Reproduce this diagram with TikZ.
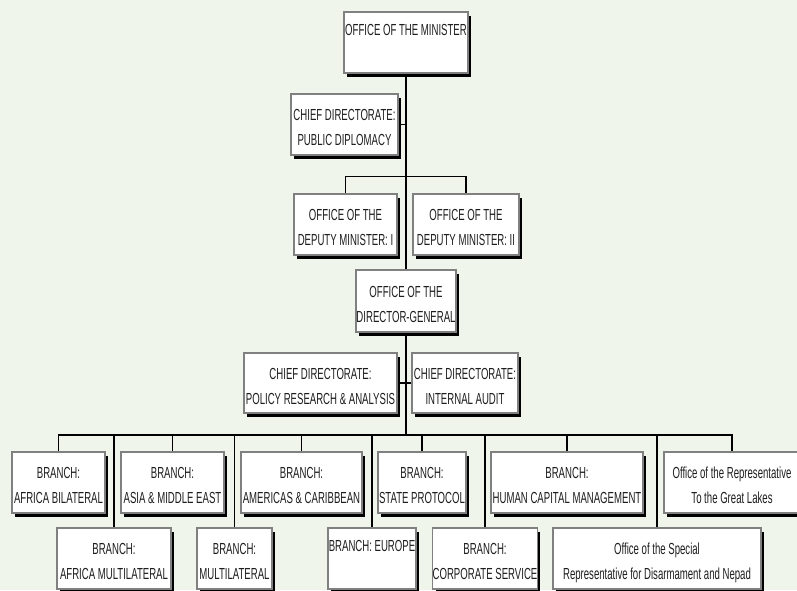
\documentclass[tikz,border=0pt]{standalone}
\usepackage{fontspec}
\setmainfont{Liberation Sans}[FakeStretch=0.6]
\usetikzlibrary{shadows}
\definecolor{bg}{RGB}{240,245,235}
\definecolor{boxline}{RGB}{128,128,128}
\definecolor{ink}{RGB}{30,30,30}
\pgfdeclarelayer{edges}
\pgfsetlayers{edges,main}
\newcommand\obox[7][]{\node[obox, minimum width={(#5-#3)*0.75pt}, minimum height={(#6-#4)*0.75pt}, #1] (#2) at ({(#3+#5)/2},{(#4+#6)/2}) {#7};}
\begin{document}
\begin{tikzpicture}[x=0.75pt,y=-0.75pt,
  obox/.style={draw=boxline, line width=1.1pt, fill=white, inner sep=0pt, align=center,
    text=ink, text height=35pt, text depth=3pt,
    font=\fontsize{12}{18.75}\selectfont,
    drop shadow={shadow xshift=2.25pt, shadow yshift=-3.2pt, fill=black, opacity=1}},
  single/.style={text height=0pt, text depth=10pt},
  link/.style={draw=black, line width=1pt}]
\useasboundingbox (0,0) rectangle (797,590);
\clip (0,0) rectangle (797,590);
\obox[single]{min}{344}{12}{468}{73}{OFFICE OF THE MINISTER}
\obox{pd}{291}{94}{398}{155}{CHIEF DIRECTORATE:\\ PUBLIC DIPLOMACY}
\obox{dep1}{294}{194}{397}{255}{OFFICE OF THE\\ DEPUTY MINISTER: I}
\obox{dep2}{413}{194}{519}{255}{OFFICE OF THE\\ DEPUTY MINISTER: II}
\obox{dg}{356}{270}{456}{332}{OFFICE OF THE\\ DIRECTOR-GENERAL}
\obox{pol}{244}{353}{397}{413}{CHIEF DIRECTORATE:\\ POLICY RESEARCH \& ANALYSIS}
\obox{ia}{412}{353}{518}{413}{CHIEF DIRECTORATE:\\ INTERNAL AUDIT}
\obox{b1}{12}{452}{105}{513}{BRANCH:\\ AFRICA BILATERAL}
\obox{b2}{121}{452}{224}{513}{BRANCH:\\ ASIA \& MIDDLE EAST}
\obox{b3}{241}{452}{362}{513}{BRANCH:\\ AMERICAS \& CARIBBEAN}
\obox{b4}{378}{452}{466}{513}{BRANCH:\\ STATE PROTOCOL}
\obox{b5}{491}{452}{643}{513}{BRANCH:\\ HUMAN CAPITAL MANAGEMENT}
\obox{b6}{664}{452}{800}{513}{Office of the Representative\\ To the Great Lakes}
\obox{c1}{57}{528}{171}{589}{BRANCH:\\ AFRICA MULTILATERAL}
\obox{c2}{197}{528}{272}{589}{BRANCH:\\ MULTILATERAL}
\obox[single]{c3}{328}{528}{416}{589}{BRANCH: EUROPE}
\obox{c4}{433}{528}{537}{589}{BRANCH:\\ CORPORATE SERVICE}
\obox{c5}{553}{528}{761}{589}{Office of the Special\\ Representative for Disarmament and Nepad}
\begin{pgfonlayer}{edges}
\fill[bg] (0,0) rectangle (797,590);
\coordinate (bar) at (406,435);
\path[link] (min.south) -- (dg.north);
\path[link] (pd.east) -- (pd.east -| dg.north);
\path[link] (dep1.north) -- ++(0,-17) -| (dep2.north);
\path[link] (pol.east) -- (ia.west);
\path[link] (dg.south) -- (bar);
\path[link] (b1.north) -- (b1.north |- bar) -| (b6.north);
\foreach \n in {b2,b3,b4,b5,c1,c2,c3,c4,c5}
  \path[link] (\n.north) -- (\n.north |- bar);
\end{pgfonlayer}
\end{tikzpicture}
\end{document}
